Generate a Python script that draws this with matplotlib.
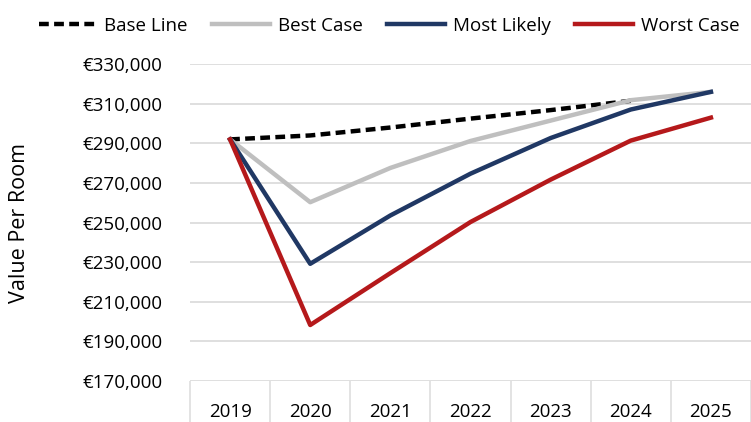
import numpy as np
import matplotlib
matplotlib.use("Agg")
import matplotlib.pyplot as plt
from matplotlib.ticker import FuncFormatter, FixedLocator

plt.rcParams['font.family'] = ['Open Sans', 'DejaVu Sans']

# ===================== DATA =====================
years = ["2019", "2020", "2021", "2022", "2023", "2024", "2025"]
base_line = [292000, 294000, 298000, 302500, 306800, 311500, np.nan]
best_case = [292000, 260300, 277600, 291200, 301500, 311800, 316000]
most_likely = [292000, 229200, 253600, 274700, 292700, 307100, 316000]
worst_case = [292000, 198300, 224500, 250300, 271700, 291400, 303000]

y_ticks = [170000, 190000, 210000, 230000, 250000, 270000, 290000, 310000, 330000]

# ===================== PLOT =====================
fig = plt.figure(figsize=(7.51, 4.22), dpi=100)
ax = fig.add_axes([0.253, 0.097, 0.747, 0.751])

x = np.arange(len(years))
ax.plot(x, base_line, color='black', lw=3.2, ls=(0, (2.2, 1.2)), label='Base Line', zorder=2)
ax.plot(x, best_case, color='#bfbfbf', lw=3.2, label='Best Case', zorder=3)
ax.plot(x, most_likely, color='#203864', lw=3.2, label='Most Likely', zorder=4)
ax.plot(x, worst_case, color='#b5191b', lw=3.2, label='Worst Case', zorder=5)

ax.set_xlim(-0.5, len(years) - 0.5)
ax.set_ylim(170000, 330000)
ax.set_yticks(y_ticks)
ax.yaxis.set_major_formatter(FuncFormatter(lambda v, p: f"€{v:,.0f}"))
ax.grid(axis='y', color='#d9d9d9', lw=1.2)
ax.set_axisbelow(True)

for s in ax.spines.values():
    s.set_visible(False)

# category labels with separators between them
ax.set_xticks(x)
ax.set_xticklabels(years)
ax.xaxis.set_minor_locator(FixedLocator(np.arange(-0.5, len(years), 1.0)))
ax.tick_params(axis='x', which='major', length=0, pad=16, labelsize=13.5, colors='black')
ax.tick_params(axis='x', which='minor', length=30, width=1.2, color='#dedede')
ax.tick_params(axis='y', length=0, pad=20, labelsize=13.5)

ax.set_ylabel('Value Per Room', fontsize=15.5)
ax.yaxis.set_label_coords(-0.285, 0.5)

fig.legend(loc='upper center', bbox_to_anchor=(0.518, 1.0), ncol=4, frameon=False,
           fontsize=13.5, handlelength=3.1, handletextpad=0.4, columnspacing=1.3)

plt.savefig('out.png', dpi=100)
